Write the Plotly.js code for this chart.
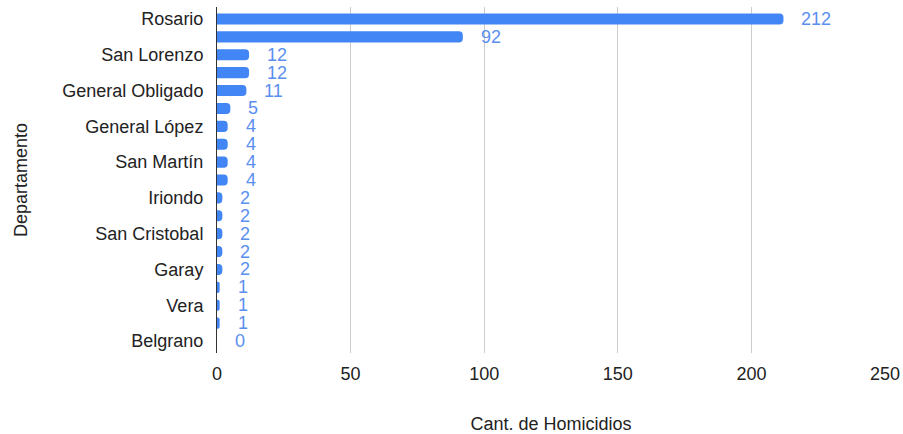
<!DOCTYPE html>
<html>
<head>
<meta charset="utf-8">
<script src="https://cdn.plot.ly/plotly-3.0.1.min.js"></script>
<style>html,body{margin:0;padding:0;background:#fff;}#chart{width:903px;height:434px;}</style>
</head>
<body>
<div id="chart"></div>
<script>
// Departamentos (order as in chart, top to bottom)
const departamentos = [
  "Rosario", "La Capital", "San Lorenzo", "Castellanos", "General Obligado",
  "Las Colonias", "General López", "Constitución", "San Martín", "Caseros",
  "Iriondo", "San Jerónimo", "San Cristobal", "San Justo", "Garay",
  "San Javier", "Vera", "9 de Julio", "Belgrano"
];
const homicidios = [212, 92, 12, 12, 11, 5, 4, 4, 4, 4, 2, 2, 2, 2, 2, 1, 1, 1, 0];
// Only every other category is labelled on the axis
const etiquetasVisibles = ["Rosario", "San Lorenzo", "General Obligado", "General López",
  "San Martín", "Iriondo", "San Cristobal", "Garay", "Vera", "Belgrano"];
const xTicks = [0, 50, 100, 150, 200, 250];

const FONT = "Arial, 'Liberation Sans', sans-serif";
const BLUE = "#4285f4";

const trace = {
  type: "bar",
  orientation: "h",
  y: departamentos,
  x: homicidios,
  marker: {color: BLUE, cornerradius: 4},
  hoverinfo: "x+y"
};

const annotations = departamentos.map((d, i) => ({
  x: homicidios[i], y: d, xref: "x", yref: "y",
  text: String(homicidios[i]), showarrow: false,
  xanchor: "left", yanchor: "middle", xshift: 16,
  font: {family: FONT, size: 18, color: "#5a8ff0"}
}));

const layout = {
  width: 903, height: 434,
  margin: {l: 217, r: 18, t: 7, b: 81, autoexpand: false},
  paper_bgcolor: "#fff", plot_bgcolor: "#fff",
  bargap: 0.38,
  showlegend: false,
  font: {family: FONT, size: 18, color: "#222"},
  xaxis: {
    range: [0, 250], tickvals: xTicks, ticktext: xTicks.map(String),
    showgrid: true, gridcolor: "#cccccc", gridwidth: 1,
    zeroline: false, showline: false, ticks: "",
    ticklabelstandoff: 8,
    tickfont: {family: FONT, size: 18, color: "#222"},
    title: {text: "Cant. de Homicidios", font: {family: FONT, size: 18, color: "#222"}, standoff: 34}
  },
  yaxis: {
    type: "category", autorange: "reversed",
    tickmode: "array", tickvals: etiquetasVisibles, ticktext: etiquetasVisibles,
    showgrid: false, zeroline: false,
    showline: true, linecolor: "#333", linewidth: 1, ticks: "",
    ticklabelstandoff: 9,
    tickfont: {family: FONT, size: 18, color: "#222"},
    title: {text: "Departamento", font: {family: FONT, size: 18, color: "#222"}, standoff: 30}
  },
  annotations: annotations
};

Plotly.newPlot("chart", [trace], layout, {displayModeBar: false, staticPlot: true});
</script>
</body>
</html>
